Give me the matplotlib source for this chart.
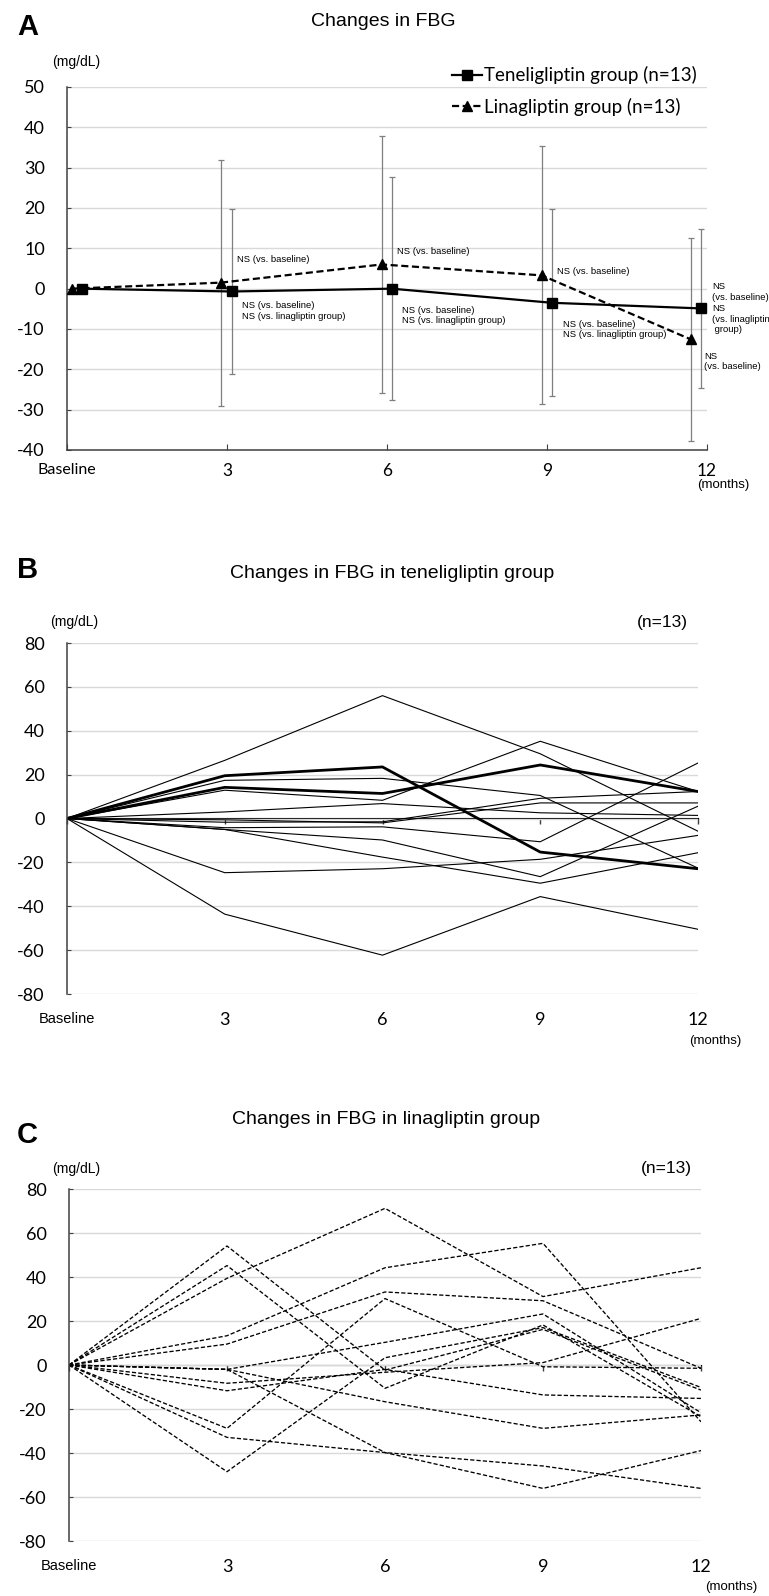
import matplotlib
matplotlib.use("Agg")
import matplotlib.pyplot as plt
import numpy as np

plt.rcParams['font.family'] = ['Liberation Sans', 'DejaVu Sans']
plt.rcParams['axes.unicode_minus'] = False

# ---- data ----
months = [0, 3, 6, 9, 12]
month_labels = ["Baseline", "3", "6", "9", "12"]

# A: mean change (mg/dL) and SD, points are dodged a little on the x axis
tene_x = [0.28, 3.09, 6.09, 9.09, 11.89]
tene_mean = [0, -0.7, 0.0, -3.5, -4.9]
tene_sd = [0, 20.5, 27.6, 23.2, 19.7]
lina_x = [0.09, 2.89, 5.9, 8.9, 11.7]
lina_mean = [0, 1.5, 6.0, 3.3, -12.6]
lina_sd = [0, 30.5, 31.8, 32.0, 25.2]

# B: individual patients, teneligliptin group
tene_patients = [
    [0, 26.5, 56.0, 29.5, -5.8],
    [0, 19.5, 23.5, -15.3, -22.9],
    [0, 17.4, 18.3, 10.5, -22.6],
    [0, 14.2, 11.4, 24.4, 12.3],
    [0, 12.9, 8.3, 35.2, 12.3],
    [0, 3.0, 6.8, 2.6, 1.4],
    [0, -0.6, -2.0, 7.1, 7.1],
    [0, -1.7, -1.5, 9.2, 12.3],
    [0, -4.2, -3.8, -10.6, 25.3],
    [0, -5.0, -9.8, -26.5, 5.6],
    [0, -5.0, -17.6, -29.5, -15.6],
    [0, -24.7, -22.9, -18.6, -7.7],
    [0, -43.6, -62.3, -35.6, -50.5],
]
tene_bold = [False, True, False, True, False, False, False, False, False, False, False, False, False]

# C: individual patients, linagliptin group
lina_patients = [
    [0, 39.4, 71.2, 31.1, 44.2],
    [0, 13.3, 44.2, 55.3, -25.8],
    [0, 9.5, 33.2, 29.2, -1.5],
    [0, -28.8, 30.2, -0.8, -1.5],
    [0, 54.1, -2.3, 16.2, -11.4],
    [0, 45.2, -10.6, 18.2, -23.5],
    [0, -2.0, 10.3, 23.2, -21.7],
    [0, -48.5, 3.3, 17.0, -10.2],
    [0, -8.3, -3.3, 1.1, 21.2],
    [0, -11.7, -2.0, -13.6, -15.2],
    [0, -2.0, -16.7, -28.8, -22.7],
    [0, -2.0, -39.8, -56.1, -38.9],
    [0, -32.9, -39.8, -45.9, -56.1],
]

W, H = 769, 1596
fig = plt.figure(figsize=(W / 100, H / 100), dpi=100)

GRID = '#d9d9d9'
AXC = '#404040'


def add_ax(l, t, r, b):
    return fig.add_axes([l / W, 1 - b / H, (r - l) / W, (b - t) / H])


def base_style(ax, ylim, ystep):
    ax.set_xlim(0, 12)
    ax.set_ylim(*ylim)
    ax.set_yticks(np.arange(ylim[0], ylim[1] + 1, ystep))
    ax.yaxis.grid(True, color=GRID, lw=1.0)
    ax.set_axisbelow(True)
    for s in ['top', 'right']:
        ax.spines[s].set_visible(False)
    ax.spines['left'].set_color(AXC)
    ax.spines['left'].set_linewidth(1.1)
    ax.tick_params(axis='y', direction='in', length=3, color=AXC, pad=16,
                   labelsize=13)
    for t in ax.get_yticklabels():
        t.set_fontfamily('Lato')
    ax.set_xticks(months)


# ---------------- A ----------------
axA = add_ax(67, 87, 707, 450)
base_style(axA, (-40, 50), 10)
axA.spines['bottom'].set_color(AXC)
axA.spines['bottom'].set_linewidth(1.1)
axA.set_xticklabels(month_labels)
axA.tick_params(axis='x', direction='in', length=4, color=AXC, pad=9, labelsize=12.5)
for t in axA.get_xticklabels():
    t.set_fontfamily('Lato')
axA.get_xticklabels()[0].set_fontsize(11.5)

axA.errorbar(lina_x[1:], lina_mean[1:], yerr=lina_sd[1:], fmt='none',
             ecolor='#7f7f7f', elinewidth=0.9, capsize=2, capthick=0.9)
axA.errorbar(tene_x[1:], tene_mean[1:], yerr=tene_sd[1:], fmt='none',
             ecolor='#7f7f7f', elinewidth=0.9, capsize=2, capthick=0.9)
axA.plot(tene_x, tene_mean, color='black', lw=1.6, marker='s', ms=6.5,
         label='Teneligliptin group (n=13)', clip_on=False, zorder=4)
axA.plot(lina_x, lina_mean, color='black', lw=1.6, ls=(0, (3.2, 1.6)), marker='^',
         ms=7.5, label='Linagliptin group (n=13)', clip_on=False, zorder=4)

leg = axA.legend(loc='upper right', bbox_to_anchor=(706 / W, 1 - 57 / H),
                 bbox_transform=fig.transFigure, frameon=False,
                 handlelength=1.6, handletextpad=0.1, borderpad=0,
                 labelspacing=0.7, prop={'family': 'Lato', 'size': 13.5})

note_kw = dict(textcoords='offset points', fontsize=6.8, ha='left', va='center',
               linespacing=1.25, annotation_clip=False)
two = 'NS (vs. baseline)\nNS (vs. linagliptin group)'
axA.annotate('NS (vs. baseline)', (lina_x[1], lina_mean[1]), xytext=(11.5, 17), **note_kw)
axA.annotate(two, (tene_x[1], tene_mean[1]), xytext=(7.2, -14), **note_kw)
axA.annotate('NS (vs. baseline)', (lina_x[2], lina_mean[2]), xytext=(10.8, 9.4), **note_kw)
axA.annotate(two, (tene_x[2], tene_mean[2]), xytext=(7.2, -19.4), **note_kw)
axA.annotate('NS (vs. baseline)', (lina_x[3], lina_mean[3]), xytext=(10.8, 2.5), **note_kw)
axA.annotate(two, (tene_x[3], tene_mean[3]), xytext=(7.9, -19.3), **note_kw)
axA.annotate('NS\n(vs. baseline)\nNS\n(vs. linagliptin\n group)', (tene_x[4], tene_mean[4]),
             xytext=(7.9, 0), **note_kw)
axA.annotate('NS\n(vs. baseline)', (lina_x[4], lina_mean[4]), xytext=(9.4, -15.8), **note_kw)

fig.text(17 / W, 1 - 27 / H, 'A', fontsize=21, fontweight='bold', va='center')
fig.text(383 / W, 1 - 21 / H, 'Changes in FBG', fontsize=14, ha='center', va='center')
fig.text(52 / W, 1 - 62 / H, '(mg/dL)', fontsize=10, va='center')
fig.text(697 / W, 1 - 485 / H, '(months)', fontsize=9.5, va='center')


# ---------------- B and C ----------------
def spaghetti(ax, patients, widths, ls):
    base_style(ax, (-80, 80), 20)
    ax.spines['bottom'].set_visible(False)
    ax.set_xticklabels(month_labels)
    ax.tick_params(axis='x', length=0, pad=13, labelsize=13)
    for i, t in enumerate(ax.get_xticklabels()):
        if i == 0:
            t.set_fontfamily('Liberation Sans')
            t.set_fontsize(10.5)
        else:
            t.set_fontfamily('Lato')
    # horizontal axis crosses at 0
    zero = ax.secondary_xaxis(0.5)
    zero.set_xticks(months)
    zero.set_xticklabels([])
    zero.tick_params(direction='in', length=4, width=1.0, color=AXC)
    zero.spines['bottom'].set_color(AXC)
    zero.spines['bottom'].set_linewidth(1.5)
    for vals, lw in zip(patients, widths):
        ax.plot(months, vals, color='black', lw=lw, ls=ls, solid_joinstyle='miter')


axB = add_ax(67, 643, 698, 994)
spaghetti(axB, tene_patients, [2.0 if b else 0.8 for b in tene_bold], '-')
fig.text(17 / W, 1 - 570 / H, 'B', fontsize=21, fontweight='bold', va='center')
fig.text(392 / W, 1 - 573 / H, 'Changes in FBG in teneligliptin group', fontsize=14,
         ha='center', va='center')
fig.text(50 / W, 1 - 622 / H, '(mg/dL)', fontsize=10, va='center')
fig.text(688 / W, 1 - 622 / H, '(n=13)', fontsize=12.5, ha='right', va='center')
fig.text(689 / W, 1 - 1041 / H, '(months)', fontsize=9.5, va='center')

axC = add_ax(69, 1189, 701, 1541)
spaghetti(axC, lina_patients, [0.95] * len(lina_patients), (0, (3.2, 1.6)))
fig.text(17 / W, 1 - 1135 / H, 'C', fontsize=21, fontweight='bold', va='center')
fig.text(386 / W, 1 - 1120 / H, 'Changes in FBG in linagliptin group', fontsize=14,
         ha='center', va='center')
fig.text(52 / W, 1 - 1169 / H, '(mg/dL)', fontsize=10, va='center')
fig.text(692 / W, 1 - 1169 / H, '(n=13)', fontsize=12.5, ha='right', va='center')
fig.text(705 / W, 1 - 1587 / H, '(months)', fontsize=9.5, va='center')

fig.savefig('out.png', dpi=100)
